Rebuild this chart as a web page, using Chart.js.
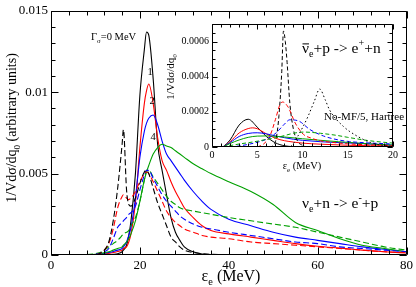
<!DOCTYPE html>
<html><head><meta charset="utf-8">
<script src="https://cdn.jsdelivr.net/npm/chart.js@4"></script>
<style>
html,body{margin:0;padding:0;background:#fff;}
#wrap{position:relative;width:416px;height:287px;overflow:hidden;}
#main{position:absolute;left:0;top:0;}
#inset{position:absolute;left:160px;top:15px;}
</style></head><body>
<div id="wrap"><canvas id="main" width="416" height="287"></canvas><canvas id="inset" width="256" height="165"></canvas></div>
<script>
// ---------- main panel data (nu_e + n -> e- + p) ----------
const E = [0,5,10,11,12,13,14,15,16,16.3,17,17.5,18,19,20,21,21.5,22,23,24,25,26,27,28,29,30,32,34,36,40,45,50,55,60,65,70,75,80];
const blackSolid = [0,0,0,0,0.00001,0.00002,0.00004,0.00008,0.0002,0.0003,0.0006,0.0012,0.0021,0.0050,0.0098,0.0126,0.0137,0.0135,0.0108,0.0068,0.0052,0.0037,0.0023,0.0014,0.0009,0.0005,0.0002,0.00006,0.00002,0,0,0,0,0,0,0,0,0];
const redSolid   = [0,0,0.00002,0.00004,0.00007,0.0001,0.00015,0.00022,0.0003,0.0004,0.0005,0.0008,0.0013,0.0032,0.0066,0.0093,0.0101,0.0105,0.0093,0.0072,0.0058,0.0052,0.0045,0.0039,0.0034,0.0029,0.0023,0.0018,0.0015,0.0013,0.0011,0.0009,0.0007,0.00054,0.00042,0.0003,0.0002,0.00012];
const blueSolid  = [0,0,0.00003,0.00006,0.0001,0.00015,0.00022,0.0003,0.0004,0.0005,0.0008,0.0012,0.0017,0.0035,0.0060,0.0076,0.0081,0.0084,0.0086,0.0080,0.0070,0.0062,0.0058,0.0054,0.0050,0.0046,0.0039,0.0033,0.0028,0.0022,0.0018,0.0014,0.0011,0.0009,0.0007,0.0005,0.00035,0.0002];
const greenSolid = [0,0,0.00004,0.00008,0.00013,0.0002,0.0003,0.0004,0.0005,0.0006,0.0008,0.001,0.0013,0.0021,0.0033,0.0046,0.0051,0.0055,0.0062,0.0066,0.0068,0.0067,0.0066,0.0064,0.0062,0.0060,0.0056,0.0053,0.0050,0.0045,0.0039,0.0031,0.0020,0.0015,0.0010,0.0006,0.0004,0.0002];
const blackDashed= [0,0,0.00003,0.0001,0.0003,0.0008,0.0021,0.0041,0.0068,0.0077,0.0040,0.0031,0.0030,0.0035,0.0044,0.0051,0.0052,0.0050,0.0041,0.0032,0.0025,0.0018,0.0011,0.0008,0.0005,0.0003,0.00015,0.00008,0.00004,0.00001,0,0,0,0,0,0,0,0];
const redDashed  = [0,0,0.00003,0.0001,0.0003,0.0007,0.0016,0.0029,0.0036,0.0037,0.0035,0.0034,0.0035,0.0039,0.0045,0.0050,0.0051,0.0050,0.0045,0.0039,0.0033,0.0027,0.0023,0.0020,0.0018,0.0016,0.0014,0.0012,0.0011,0.0010,0.0008,0.0007,0.0006,0.0005,0.0004,0.0003,0.0002,0.00015];
const blueDashed = [0,0,0.00005,0.0001,0.0002,0.0004,0.0010,0.0017,0.0020,0.0021,0.0023,0.0025,0.0026,0.0030,0.0040,0.0049,0.0052,0.0052,0.0047,0.0042,0.0037,0.0033,0.0030,0.0027,0.0024,0.0022,0.0019,0.0017,0.0016,0.0014,0.0012,0.0010,0.0008,0.0007,0.0005,0.0004,0.0003,0.0002];
const greenDashed= [0,0,0.00008,0.00015,0.0003,0.0005,0.0007,0.0009,0.0012,0.0013,0.0014,0.0015,0.0018,0.0023,0.0033,0.0046,0.0052,0.0052,0.0048,0.0044,0.0040,0.0036,0.0033,0.0031,0.0029,0.0028,0.0027,0.0026,0.0025,0.0023,0.0021,0.0019,0.0017,0.0014,0.0011,0.0008,0.0005,0.0003];
const xTicks = [0,20,40,60,80];
const xTickLabels = ['0','20','40','60','80'];
const yTicks = [0,0.005,0.01,0.015];
const yTickLabels = ['0','0.005','0.01','0.015'];

// ---------- inset data (anti-nu_e + p -> e+ + n) ----------
const iBlackSolidE = [1.2,2,3,4,5,6,7,8,9,10,20];
const iBlackSolidV = [0,0.00004,0.000125,0.000158,0.000113,0.00006,0.000024,0.000007,0.000002,0,0];
const iRedSolidE = [1.2,2,3,4,4.5,5,6,7,8,9,10,12,15,20];
const iRedSolidV = [0,0.00003,0.00008,0.000105,0.000109,0.000104,0.000075,0.00005,0.000036,0.000028,0.000022,0.000016,0.00001,0.000005];
const iBlueSolidE = [1.2,2,3,4,5,6,7,8,9,10,12,15,20];
const iBlueSolidV = [0,0.000025,0.00006,0.000077,0.000081,0.000075,0.000063,0.000053,0.000044,0.000038,0.00003,0.000023,0.000011];
const iGreenSolidE = [1.2,2,3,4,5,6,7,8,10,12,14,16,18,20];
const iGreenSolidV = [0,0.00002,0.00004,0.000055,0.000062,0.000063,0.000061,0.000057,0.000047,0.000038,0.00003,0.000023,0.000016,0.000011];
const iBlackDashedE = [6.3,6.8,7.1,7.4,7.7,7.9,8.1,8.3,8.6,9,9.5,10,10.5];
const iBlackDashedV = [0,0.00001,0.00005,0.00018,0.00042,0.00066,0.0006,0.00048,0.00025,0.0001,0.00003,0.00001,0];
const iRedDashedE = [5,5.7,6.4,7,7.5,7.8,8.4,9.2,10.1,11,12,13,15,17,20];
const iRedDashedV = [0,0.000017,0.000063,0.000155,0.00024,0.000256,0.000228,0.000136,0.000072,0.00005,0.000035,0.000028,0.000018,0.000013,0.000008];
const iBlueDashedE = [2,3,4.2,5,6,7.1,8,8.6,9.2,9.7,10.8,12.3,14,15.2,17,20];
const iBlueDashedV = [0,0.000006,0.000017,0.000027,0.000044,0.000081,0.00013,0.000155,0.000153,0.000145,0.0001,0.000063,0.00004,0.000031,0.000024,0.000017];
const iGreenDashedE = [1.2,2,3,4.2,5,6,7.1,8,9,10.1,11,12,13.8,15,17.5,20];
const iGreenDashedV = [0,0.000008,0.000017,0.000026,0.000033,0.000043,0.000053,0.000065,0.000078,0.000085,0.000083,0.000078,0.000066,0.000055,0.000035,0.000022];
const iDottedE = [8.3,8.8,9.5,10,10.6,11.3,11.9,12.5,13,14.5,16,17.5,19,20];
const iDottedV = [0,0.000008,0.000063,0.00011,0.000173,0.00026,0.00033,0.00027,0.00021,0.000118,0.000063,0.000026,0.000008,0.000003];
const ixTicks = [0,5,10,15,20];
const ixTickLabels = ['0','5','10','15','20'];
const iyTicks = [0,0.0002,0.0004,0.0006];
const iyTickLabels = ['0','0.0002','0.0004','0.0006'];

const FONT = '"Liberation Serif","Times New Roman",serif';
const C = {k:'#000000', r:'#ff0000', b:'#0000ff', g:'#00a000'};

function pts(xs, ys){ return xs.map((x,i)=>({x:x, y:ys[i]})); }
function ds(xs, ys, color, dash, lw){
  return {data:pts(xs,ys), borderColor:color, borderWidth:lw, borderDash:dash||[], pointRadius:0,
          fill:false, cubicInterpolationMode:'monotone', tension:0.4};
}

function richWidth(ctx, parts, size){
  let w=0; for(const p of parts){ ctx.font=(p.s?size*p.s:size)+'px '+FONT; w+=ctx.measureText(p.t).width; } return w;
}
function drawRich(ctx, parts, x, y, size, align){
  const w = richWidth(ctx, parts, size);
  let cx = align==='center' ? x-w/2 : x;
  ctx.textAlign='left'; ctx.textBaseline='alphabetic'; ctx.fillStyle='#000';
  for(const p of parts){
    const s = p.s?size*p.s:size;
    ctx.font = s+'px '+FONT;
    const dy = p.dy? p.dy*size : 0;
    ctx.fillText(p.t, cx, y+dy);
    const tw = ctx.measureText(p.t).width;
    if(p.bar){ ctx.fillRect(cx+0.5, y-size*0.62, tw-0.5, 1); }
    cx += tw;
  }
}

function frameTicksPlugin(cfg){
  return {id:'frameTicks', afterDraw(chart){
    const ctx=chart.ctx, a=chart.chartArea, xs=chart.scales.x, ys=chart.scales.y;
    ctx.save(); ctx.strokeStyle='#000'; ctx.lineWidth=1;
    const L=Math.round(a.left)+0.5, R=Math.round(a.right)-0.5, T=Math.round(a.top)+0.5, B=Math.round(a.bottom)-0.5;
    ctx.beginPath(); ctx.rect(L,T,R-L,B-T); ctx.stroke();
    ctx.beginPath();
    const xt=(v,len)=>{ const p=Math.round(xs.getPixelForValue(v))+0.5; ctx.moveTo(p,B); ctx.lineTo(p,B-len); ctx.moveTo(p,T); ctx.lineTo(p,T+len); };
    const yt=(v,len)=>{ const p=Math.round(ys.getPixelForValue(v))+0.5; ctx.moveTo(L,p); ctx.lineTo(L+len,p); ctx.moveTo(R,p); ctx.lineTo(R-len,p); };
    for(let v=cfg.xmin; v<=cfg.xmax+1e-9; v+=cfg.xminor) xt(v, cfg.minorLen);
    for(let k=0; cfg.ymin+k*cfg.yminor<=cfg.ymax+1e-12; k++) yt(cfg.ymin+k*cfg.yminor, cfg.minorLen);
    cfg.xmajor.forEach(v=>xt(v,cfg.majorLen));
    cfg.ymajor.forEach(v=>yt(v,cfg.majorLen));
    ctx.stroke();
    ctx.restore();
    if(cfg.text) { ctx.save(); cfg.text(ctx); ctx.restore(); }
  }};
}

function axisOpts(min,max,ticks,labels,fit,size,pad,isX){
  return {type:'linear', min:min, max:max, grid:{display:false, drawTicks:false}, border:{display:false},
    afterBuildTicks:s=>{ s.ticks = ticks.map(v=>({value:v})); },
    afterFit:s=>{ if(isX) s.height=fit; else s.width=fit; },
    ticks:{padding:pad, color:'#000', font:{family:FONT,size:size}, maxRotation:0, autoSkip:false,
      callback:(v,i)=>labels[i]}};
}

// ---------- main chart ----------
new Chart(document.getElementById('main'), {
  type:'line',
  data:{datasets:[
    ds(E,blackDashed,C.k,[6,3],1.1), ds(E,redDashed,C.r,[6,3],1.1), ds(E,blueDashed,C.b,[6,3],1.1), ds(E,greenDashed,C.g,[6,3],1.1),
    ds(E,greenSolid,C.g,[],1.1), ds(E,blueSolid,C.b,[],1.1), ds(E,redSolid,C.r,[],1.1), ds(E,blackSolid,C.k,[],1.1)
  ]},
  options:{responsive:false, animation:false, devicePixelRatio:1,
    layout:{padding:{top:5,right:6,left:0,bottom:0}},
    plugins:{legend:{display:false}, tooltip:{enabled:false}},
    scales:{ x:axisOpts(0,80,xTicks,xTickLabels,32,13,3,true), y:axisOpts(0,0.015,yTicks,yTickLabels,51,13,3,false) }
  },
  plugins:[frameTicksPlugin({xmin:0,xmax:80,xminor:4,ymin:0,ymax:0.015,yminor:0.001,xmajor:xTicks,ymajor:yTicks,majorLen:7,minorLen:4,
    text:(ctx)=>{
      drawRich(ctx,[{t:'ε'},{t:'e',s:0.65,dy:0.25},{t:' (MeV)'}],231,281,16,'center');
      ctx.save(); ctx.translate(16,128); ctx.rotate(-Math.PI/2);
      drawRich(ctx,[{t:'1/Vdσ/dq'},{t:'0',s:0.65,dy:0.25},{t:' (arbitrary units)'}],0,0,14,'center');
      ctx.restore();
      drawRich(ctx,[{t:'Γ'},{t:'σ',s:0.65,dy:0.25},{t:'=0 MeV'}],91,40,10.5,'left');
      drawRich(ctx,[{t:'1'}],150,75,10.5,'center');
      drawRich(ctx,[{t:'2'}],152,104,10.5,'center');
      drawRich(ctx,[{t:'4'}],153,140,10.5,'center');
      drawRich(ctx,[{t:'ν'},{t:'e',s:0.65,dy:0.25},{t:'+n -> e'},{t:'-',s:0.65,dy:-0.45},{t:'+p'}],302,208,15.5,'left');
    }})]
});

// ---------- inset chart ----------
new Chart(document.getElementById('inset'), {
  type:'line',
  data:{datasets:[
    ds(iDottedE,iDottedV,C.k,[1.5,2.5],1),
    ds(iGreenDashedE,iGreenDashedV,C.g,[4,2.5],1), ds(iBlueDashedE,iBlueDashedV,C.b,[4,2.5],1),
    ds(iRedDashedE,iRedDashedV,C.r,[4,2.5],1), ds(iBlackDashedE,iBlackDashedV,C.k,[4,2.5],1),
    ds(iGreenSolidE,iGreenSolidV,C.g,[],1), ds(iBlueSolidE,iBlueSolidV,C.b,[],1),
    ds(iRedSolidE,iRedSolidV,C.r,[],1), ds(iBlackSolidE,iBlackSolidV,C.k,[],1)
  ]},
  options:{responsive:false, animation:false, devicePixelRatio:1,
    layout:{padding:{top:8,right:23,left:0,bottom:0}},
    plugins:{legend:{display:false}, tooltip:{enabled:false}},
    scales:{ x:axisOpts(0,20,ixTicks,ixTickLabels,33,10,2,true), y:axisOpts(0,0.0007,iyTicks,iyTickLabels,52,10,3,false) }
  },
  plugins:[frameTicksPlugin({xmin:0,xmax:20,xminor:1,ymin:0,ymax:0.0007,yminor:0.00005,xmajor:ixTicks,ymajor:iyTicks,majorLen:5,minorLen:3,
    text:(ctx)=>{
      drawRich(ctx,[{t:'ε'},{t:'e',s:0.65,dy:0.25},{t:' (MeV)'}],142,154,10.5,'center');
      ctx.save(); ctx.translate(14,62); ctx.rotate(-Math.PI/2);
      drawRich(ctx,[{t:'1/Vdσ/dq'},{t:'0',s:0.65,dy:0.25}],0,0,11,'center');
      ctx.restore();
      drawRich(ctx,[{t:'ν',bar:true},{t:'e',s:0.65,dy:0.25},{t:'+p -> e'},{t:'+',s:0.65,dy:-0.45},{t:'+n'}],142,38,15.5,'left');
      drawRich(ctx,[{t:'No-MF/5, Hartree'}],164,105,11,'left');
    }})]
});
</script>
</body></html>
